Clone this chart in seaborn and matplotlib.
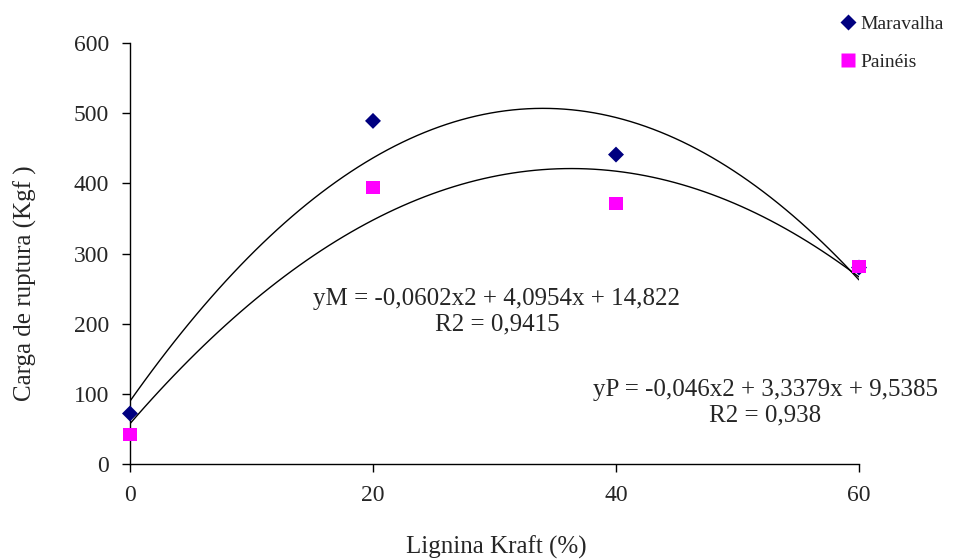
import numpy as np
import pandas as pd
import matplotlib
matplotlib.use("Agg")
import matplotlib.pyplot as plt
import seaborn as sns

# data
lignina = [0, 20, 40, 60]
maravalha = [72, 489, 441, 280]
paineis = [42, 394, 371, 282]
series_names = ["Maravalha", "Painéis"]
eq_m = "yM = -0,0602x2 + 4,0954x + 14,822\nR2 = 0,9415"
eq_p = "yP = -0,046x2 + 3,3379x + 9,5385\nR2 = 0,938"

df = pd.DataFrame({
    "x": lignina * 2,
    "y": maravalha + paineis,
    "serie": [series_names[0]] * len(lignina) + [series_names[1]] * len(lignina),
})

sns.set_style("white")
plt.rcParams["font.family"] = ["Liberation Serif", "DejaVu Serif"]

fig = plt.figure(figsize=(9.6, 5.6), dpi=100)
ax = fig.add_axes([0.1354, 0.1714, 0.7594, 0.7518])

# quadratic trend lines
for name in series_names:
    sub = df[df["serie"] == name]
    sns.regplot(data=sub, x="x", y="y", order=2, ci=None, scatter=False,
                truncate=True, color="black", line_kws={"lw": 1.0}, ax=ax)

sns.scatterplot(data=df, x="x", y="y", hue="serie", style="serie", size="serie",
                markers={"Maravalha": "D", "Painéis": "s"},
                palette={"Maravalha": "#000080", "Painéis": "#ff00ff"},
                sizes={"Maravalha": 66, "Painéis": 90},
                edgecolor="none", ax=ax, zorder=3, clip_on=False)

ax.set_xlim(0, 60)
ax.set_ylim(0, 600)
ax.set_xticks([0, 20, 40, 60])
ax.set_yticks(range(0, 601, 100))
ax.tick_params(axis="both", direction="out", length=6, width=1, labelsize=17,
               color="black", bottom=True, left=True, pad=9)
for side in ["top", "right"]:
    ax.spines[side].set_visible(False)
for side in ["left", "bottom"]:
    ax.spines[side].set_color("black")
    ax.spines[side].set_linewidth(1)

ax.set_xlabel("Lignina Kraft (%)", fontsize=18)
ax.set_ylabel("Carga de ruptura (Kgf )", fontsize=18)
ax.xaxis.set_label_coords(0.503, -0.17)
ax.yaxis.set_label_coords(-0.128, 0.43)

ax.text(30.2, 217, eq_m, ha="center", va="center", multialignment="center",
        fontsize=18, linespacing=1.2)
ax.text(52.3, 88, eq_p, ha="center", va="center", multialignment="center",
        fontsize=18, linespacing=1.2)

sns.move_legend(ax, "upper left", bbox_to_anchor=(0.948, 1.107), frameon=False,
                title=None, fontsize=14, labelspacing=1.05, handletextpad=0.1,
                handlelength=1.0)

fig.savefig("out.png", dpi=100)
